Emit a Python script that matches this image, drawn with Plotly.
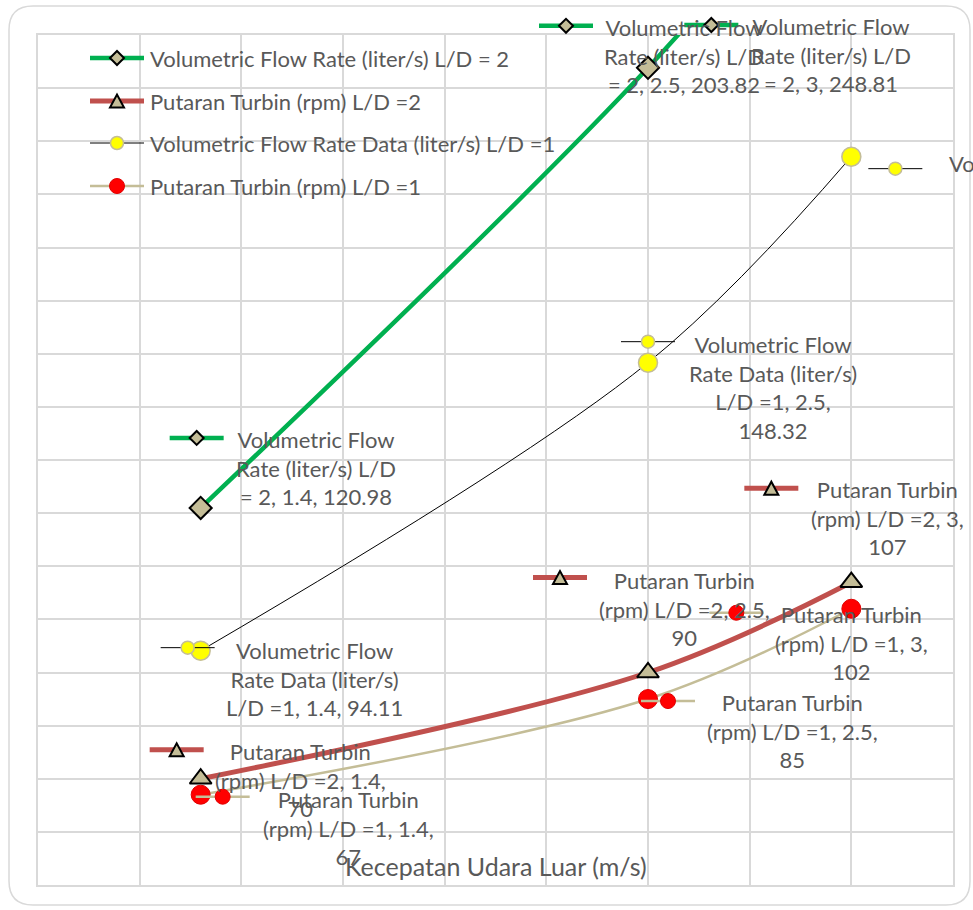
import plotly.graph_objects as go

# ---------------- data ----------------
wind_speed = [1.4, 2.5, 3]                 # Kecepatan Udara Luar (m/s)
flow_ld2 = [120.98, 203.82, 248.81]        # liter/s, L/D = 2
rpm_ld2 = [70, 90, 107]                    # rpm, L/D = 2
flow_ld1 = [94.11, 148.32, 187.1]          # liter/s, L/D = 1
rpm_ld1 = [67, 85, 102]                    # rpm, L/D = 1

series_names = [
    "Volumetric Flow Rate (liter/s) L/D = 2",
    "Putaran Turbin (rpm) L/D =2",
    "Volumetric Flow Rate Data (liter/s) L/D =1",
    "Putaran Turbin (rpm) L/D =1",
]
x_title = "Kecepatan Udara Luar (m/s)"

X_RANGE = [1, 3.25]
Y_RANGE = [50, 210]

# ---------------- look ----------------
W, H = 973, 910
M_L, M_R, M_T, M_B = 38, 20, 35, 25
FONT = dict(family="Lato, 'Open Sans', sans-serif", size=22, color="#595959")
TITLE_FONT = dict(family="Lato, 'Open Sans', sans-serif", size=25, color="#595959")
GRID = "#D9D9D9"
TAN = "#C4BD97"

styles = [
    dict(line_color="#00B050", line_width=4.5, symbol="diamond", size=17, fill=TAN,
         edge="#000000", edge_w=2, key="diamond", key_r=7, key_edge_w=2),
    dict(line_color="#C0504D", line_width=5, symbol="triangle-up", size=19, fill=TAN,
         edge="#000000", edge_w=2, key="triangle", key_r=7, key_edge_w=2),
    dict(line_color="#000000", line_width=1, symbol="circle", size=19, fill="#FFFF00",
         edge=TAN, edge_w=1.5, key="circle", key_r=6.5, key_edge_w=1.5),
    dict(line_color=TAN, line_width=2.5, symbol="circle", size=19, fill="#FF0000",
         edge="#E00000", edge_w=1, key="circle", key_r=7.5, key_edge_w=1),
]


def fmt(v):
    return f"{v:g}"


def label_lines(series, x, y, split_last=False):
    if series == 0:
        return ["Volumetric Flow", "Rate (liter/s) L/D", f"= 2, {fmt(x)}, {fmt(y)}"]
    if series == 2:
        if split_last:
            return ["Volumetric Flow", "Rate Data (liter/s)", f"L/D =1, {fmt(x)},", fmt(y)]
        return ["Volumetric Flow", "Rate Data (liter/s)", f"L/D =1, {fmt(x)}, {fmt(y)}"]
    ld = "2" if series == 1 else "1"
    return ["Putaran Turbin", f"(rpm) L/D ={ld}, {fmt(x)},", fmt(y)]


# data-label placement: key centre (kdx, kdy) and first text line centre (tdx, tdy),
# pixel offsets from the point (y downwards)
label_pos = [
    [(-4, -70, 115, -68), (-82, -42, 36, -40), (-140, -10, -20, -8)],
    [(-24, -29, 100, -27), (-88, -95, 36, -92), (-80, -94, 36, -92)],
    [(-13, -3, 114, 0), (0, -21, 125, -18), (44, 12, 96, 7)],
    [(22, 2, 148, 5), (20, 2, 144, 4), (-115, 4, 0, 6)],
]

fig = go.Figure()
series_values = [flow_ld2, rpm_ld2, flow_ld1, rpm_ld1]
for name, ys, st in zip(series_names, series_values, styles):
    fig.add_trace(go.Scatter(
        x=wind_speed, y=ys, name=name, mode="lines+markers",
        line=dict(color=st["line_color"], width=st["line_width"], shape="spline", smoothing=1),
        marker=dict(symbol=st["symbol"], size=st["size"], color=st["fill"],
                    line=dict(color=st["edge"], width=st["edge_w"])),
        cliponaxis=True, showlegend=False, hoverinfo="x+y+name",
    ))


def key_shapes(st, xref, xanchor, yref, yanchor, cx, cy, half=27):
    """Legend-style key (line + marker) centred cx, cy pixels from an anchor."""
    y = -cy
    common = dict(xref=xref, yref=yref, xsizemode="pixel", ysizemode="pixel",
                  xanchor=xanchor, yanchor=yanchor, layer="above")
    out = [dict(type="line", x0=cx - half, x1=cx + half, y0=y, y1=y,
                line=dict(color=st["line_color"], width=st["line_width"]), **common)]
    r = st["key_r"]
    edge = dict(color=st["edge"], width=st["key_edge_w"])
    if st["key"] == "circle":
        out.append(dict(type="circle", x0=cx - r, x1=cx + r, y0=y - r, y1=y + r,
                        fillcolor=st["fill"], line=edge, **common))
    elif st["key"] == "diamond":
        out.append(dict(type="path",
                        path=f"M{cx - r},{y} L{cx},{y + r} L{cx + r},{y} L{cx},{y - r} Z",
                        fillcolor=st["fill"], line=edge, **common))
    else:
        out.append(dict(type="path",
                        path=f"M{cx - r},{y - r + 0.5} L{cx + r},{y - r + 0.5} L{cx},{y + r - 0.5} Z",
                        fillcolor=st["fill"], line=edge, **common))
    return out


def yfrac(v):
    v = min(max(v, Y_RANGE[0]), Y_RANGE[1])
    return (v - Y_RANGE[0]) / (Y_RANGE[1] - Y_RANGE[0])


shapes = []
annotations = []

# rounded chart border
bx0, by0, bx1, by1, rad = 9 - M_L, M_T - 6, 970 - M_L, M_T - 905, 24
shapes.append(dict(
    type="path", xref="paper", yref="paper", xsizemode="pixel", ysizemode="pixel",
    xanchor=0, yanchor=1, layer="below", line=dict(color=GRID, width=1.5),
    path=(f"M{bx0 + rad},{by0} L{bx1 - rad},{by0} Q{bx1},{by0} {bx1},{by0 - rad} "
          f"L{bx1},{by1 + rad} Q{bx1},{by1} {bx1 - rad},{by1} L{bx0 + rad},{by1} "
          f"Q{bx0},{by1} {bx0},{by1 + rad} L{bx0},{by0 - rad} Q{bx0},{by0} {bx0 + rad},{by0} Z"),
))

# data labels with keys
for s, (ys, st) in enumerate(zip(series_values, styles)):
    for i, (xv, yv) in enumerate(zip(wind_speed, ys)):
        kdx, kdy, tdx, tdy = label_pos[s][i]
        yf = yfrac(yv)
        shapes += key_shapes(st, "x", xv, "paper", yf, kdx, kdy)
        lines = label_lines(s, xv, yv, split_last=(s == 2 and i == 1))
        left = (s == 2 and i == 2)
        if left:
            # runs off the right edge of the chart, written on one line
            lines = [", ".join([series_names[2], fmt(xv), fmt(yv)])]
        annotations.append(dict(
            x=xv, xref="x", y=yf, yref="paper", text="<br>".join(lines),
            showarrow=False, font=FONT, align="center",
            xanchor="left" if left else "center", yanchor="top",
            xshift=tdx, yshift=16 - tdy,
        ))

# legend
legend_rows = [58, 101, 143, 186]
for name, st, yc in zip(series_names, styles, legend_rows):
    shapes += key_shapes(st, "paper", 0, "paper", 1, 117 - M_L, yc - M_T)
    annotations.append(dict(
        x=0, xref="paper", y=1, yref="paper", text=name, showarrow=False, font=FONT,
        xanchor="left", yanchor="middle", xshift=150 - M_L - 2, yshift=-(yc - M_T),
    ))

# axis title, drawn inside the plot area
annotations.append(dict(
    x=0.5, xref="paper", y=0, yref="paper", text=x_title, showarrow=False, font=TITLE_FONT,
    xanchor="center", yanchor="middle", yshift=885 - 866,
))

fig.update_layout(
    width=W, height=H,
    margin=dict(l=M_L, r=M_R, t=M_T, b=M_B, pad=0),
    paper_bgcolor="white", plot_bgcolor="white",
    font=FONT, showlegend=False,
    shapes=shapes, annotations=annotations,
    xaxis=dict(range=X_RANGE, dtick=0.25, tick0=1, showgrid=True, gridcolor=GRID, gridwidth=1.5,
               showticklabels=False, ticks="", zeroline=False,
               showline=True, mirror=True, linecolor=GRID, linewidth=1.5),
    yaxis=dict(range=Y_RANGE, dtick=10, tick0=50, showgrid=True, gridcolor=GRID, gridwidth=1.5,
               showticklabels=False, ticks="", zeroline=False,
               showline=True, mirror=True, linecolor=GRID, linewidth=1.5),
)

fig.write_html("out.html")
